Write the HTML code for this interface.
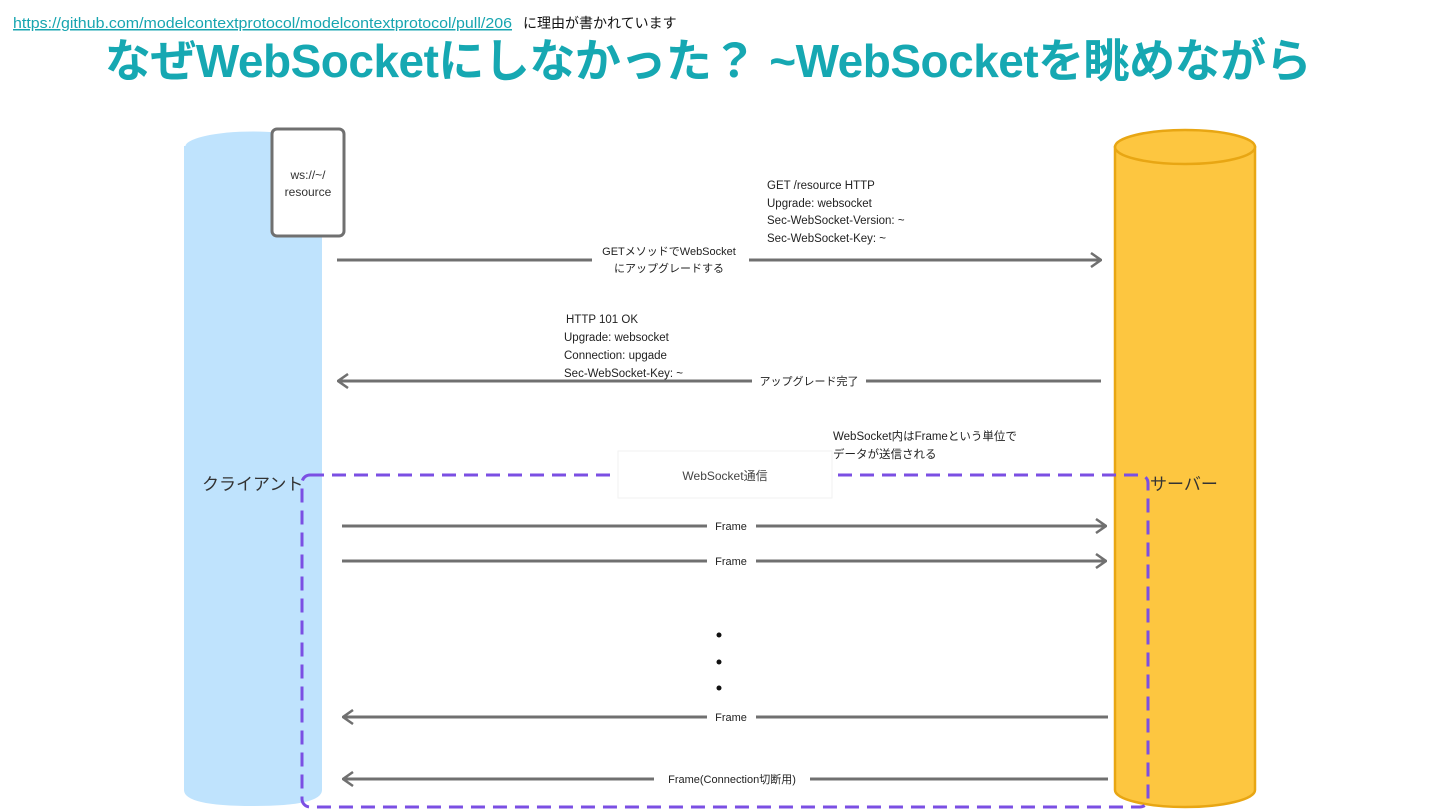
<!DOCTYPE html>
<html><head><meta charset="utf-8"><style>
html,body{margin:0;padding:0;background:#fff;}
svg{display:block;}
text{font-family:"Liberation Sans","Noto Sans CJK JP",sans-serif;}
</style></head><body>
<svg width="1440" height="810" viewBox="0 0 1440 810" xmlns="http://www.w3.org/2000/svg">
<defs>
<marker id="ar" viewBox="0 0 12 16" refX="11" refY="8" markerWidth="12" markerHeight="16" markerUnits="userSpaceOnUse" orient="auto">
<path d="M1 1 L11 8 L1 15" fill="none" stroke="#707070" stroke-width="2.5"/>
</marker>
</defs>
<text x="13" y="28" font-size="15" fill="#17a5b0" text-decoration="underline" textLength="499" lengthAdjust="spacingAndGlyphs">https://github.com/modelcontextprotocol/modelcontextprotocol/pull/206</text>
<text x="523" y="28" font-size="14" fill="#111">に理由が書かれています</text>
<text x="708" y="77" font-size="46" font-weight="bold" fill="#16a8b2" text-anchor="middle" letter-spacing="-0.5">なぜWebSocketにしなかった？ ~WebSocketを眺めながら</text>

<!-- client cylinder -->
<path d="M184 146 L184 790 Q184 806 253 806 Q322 806 322 790 L322 146 Z" fill="#bfe3fd"/>
<ellipse cx="253" cy="146" rx="69" ry="16" fill="#bfe3fd"/>
<path d="M184 146 A69 16 0 0 1 322 146" fill="none" stroke="#fff" stroke-width="3"/>
<text x="202" y="490" font-size="17" fill="#333">クライアント</text>

<!-- server cylinder -->
<path d="M1115 147 L1115 790 A70 17 0 0 0 1255 790 L1255 147 Z" fill="#fdc640" stroke="#e8a613" stroke-width="2.5"/>
<ellipse cx="1185" cy="147" rx="70" ry="17" fill="#fdc640" stroke="#e8a613" stroke-width="2.5"/>
<text x="1150" y="490" font-size="17" fill="#333">サーバー</text>

<!-- ws box -->
<rect x="272" y="129" width="72" height="107" rx="5" fill="#fff" stroke="#707070" stroke-width="3"/>
<text x="308" y="179" font-size="12" fill="#333" text-anchor="middle">ws://~/</text>
<text x="308" y="196" font-size="12" fill="#333" text-anchor="middle">resource</text>

<!-- arrow 1 -->
<line x1="337" y1="260" x2="592" y2="260" stroke="#707070" stroke-width="3"/>
<line x1="749" y1="260" x2="1101" y2="260" stroke="#707070" stroke-width="3" marker-end="url(#ar)"/>
<text x="669" y="255" font-size="11" fill="#222" text-anchor="middle">GETメソッドでWebSocket</text>
<text x="669" y="272" font-size="11" fill="#222" text-anchor="middle">にアップグレードする</text>
<g font-size="11.5" fill="#222">
<text x="767" y="189">GET /resource HTTP</text>
<text x="767" y="207">Upgrade: websocket</text>
<text x="767" y="224">Sec-WebSocket-Version: ~</text>
<text x="767" y="242">Sec-WebSocket-Key: ~</text>
<text x="566" y="323">HTTP 101 OK</text>
<text x="564" y="341">Upgrade: websocket</text>
<text x="564" y="359">Connection: upgade</text>
<text x="564" y="377">Sec-WebSocket-Key: ~</text>
<text x="833" y="440">WebSocket内はFrameという単位で</text>
<text x="833" y="458">データが送信される</text>
</g>

<!-- arrow 2 -->
<line x1="1101" y1="381" x2="866" y2="381" stroke="#707070" stroke-width="3"/>
<line x1="752" y1="381" x2="338" y2="381" stroke="#707070" stroke-width="3" marker-end="url(#ar)"/>
<text x="809" y="385" font-size="11" fill="#222" text-anchor="middle">アップグレード完了</text>

<!-- dashed box -->
<rect x="302" y="475" width="846" height="332" rx="8" fill="none" stroke="#7b4fe3" stroke-width="3" stroke-dasharray="14 8"/>
<rect x="618" y="451" width="214" height="47" fill="#fff" stroke="#f2f2f2" stroke-width="1"/>
<text x="725" y="480" font-size="12" fill="#444" text-anchor="middle">WebSocket通信</text>

<!-- frames -->
<line x1="342" y1="526" x2="707" y2="526" stroke="#707070" stroke-width="3"/>
<line x1="756" y1="526" x2="1106" y2="526" stroke="#707070" stroke-width="3" marker-end="url(#ar)"/>
<text x="731" y="530" font-size="11" fill="#222" text-anchor="middle">Frame</text>
<line x1="342" y1="561" x2="707" y2="561" stroke="#707070" stroke-width="3"/>
<line x1="756" y1="561" x2="1106" y2="561" stroke="#707070" stroke-width="3" marker-end="url(#ar)"/>
<text x="731" y="565" font-size="11" fill="#222" text-anchor="middle">Frame</text>

<circle cx="719" cy="635" r="2.5" fill="#111"/>
<circle cx="719" cy="662" r="2.5" fill="#111"/>
<circle cx="719" cy="688" r="2.5" fill="#111"/>

<line x1="1108" y1="717" x2="756" y2="717" stroke="#707070" stroke-width="3"/>
<line x1="707" y1="717" x2="343" y2="717" stroke="#707070" stroke-width="3" marker-end="url(#ar)"/>
<text x="731" y="721" font-size="11" fill="#222" text-anchor="middle">Frame</text>
<line x1="1108" y1="779" x2="810" y2="779" stroke="#707070" stroke-width="3"/>
<line x1="654" y1="779" x2="343" y2="779" stroke="#707070" stroke-width="3" marker-end="url(#ar)"/>
<text x="732" y="783" font-size="11" fill="#222" text-anchor="middle">Frame(Connection切断用)</text>
</svg>
</body></html>
